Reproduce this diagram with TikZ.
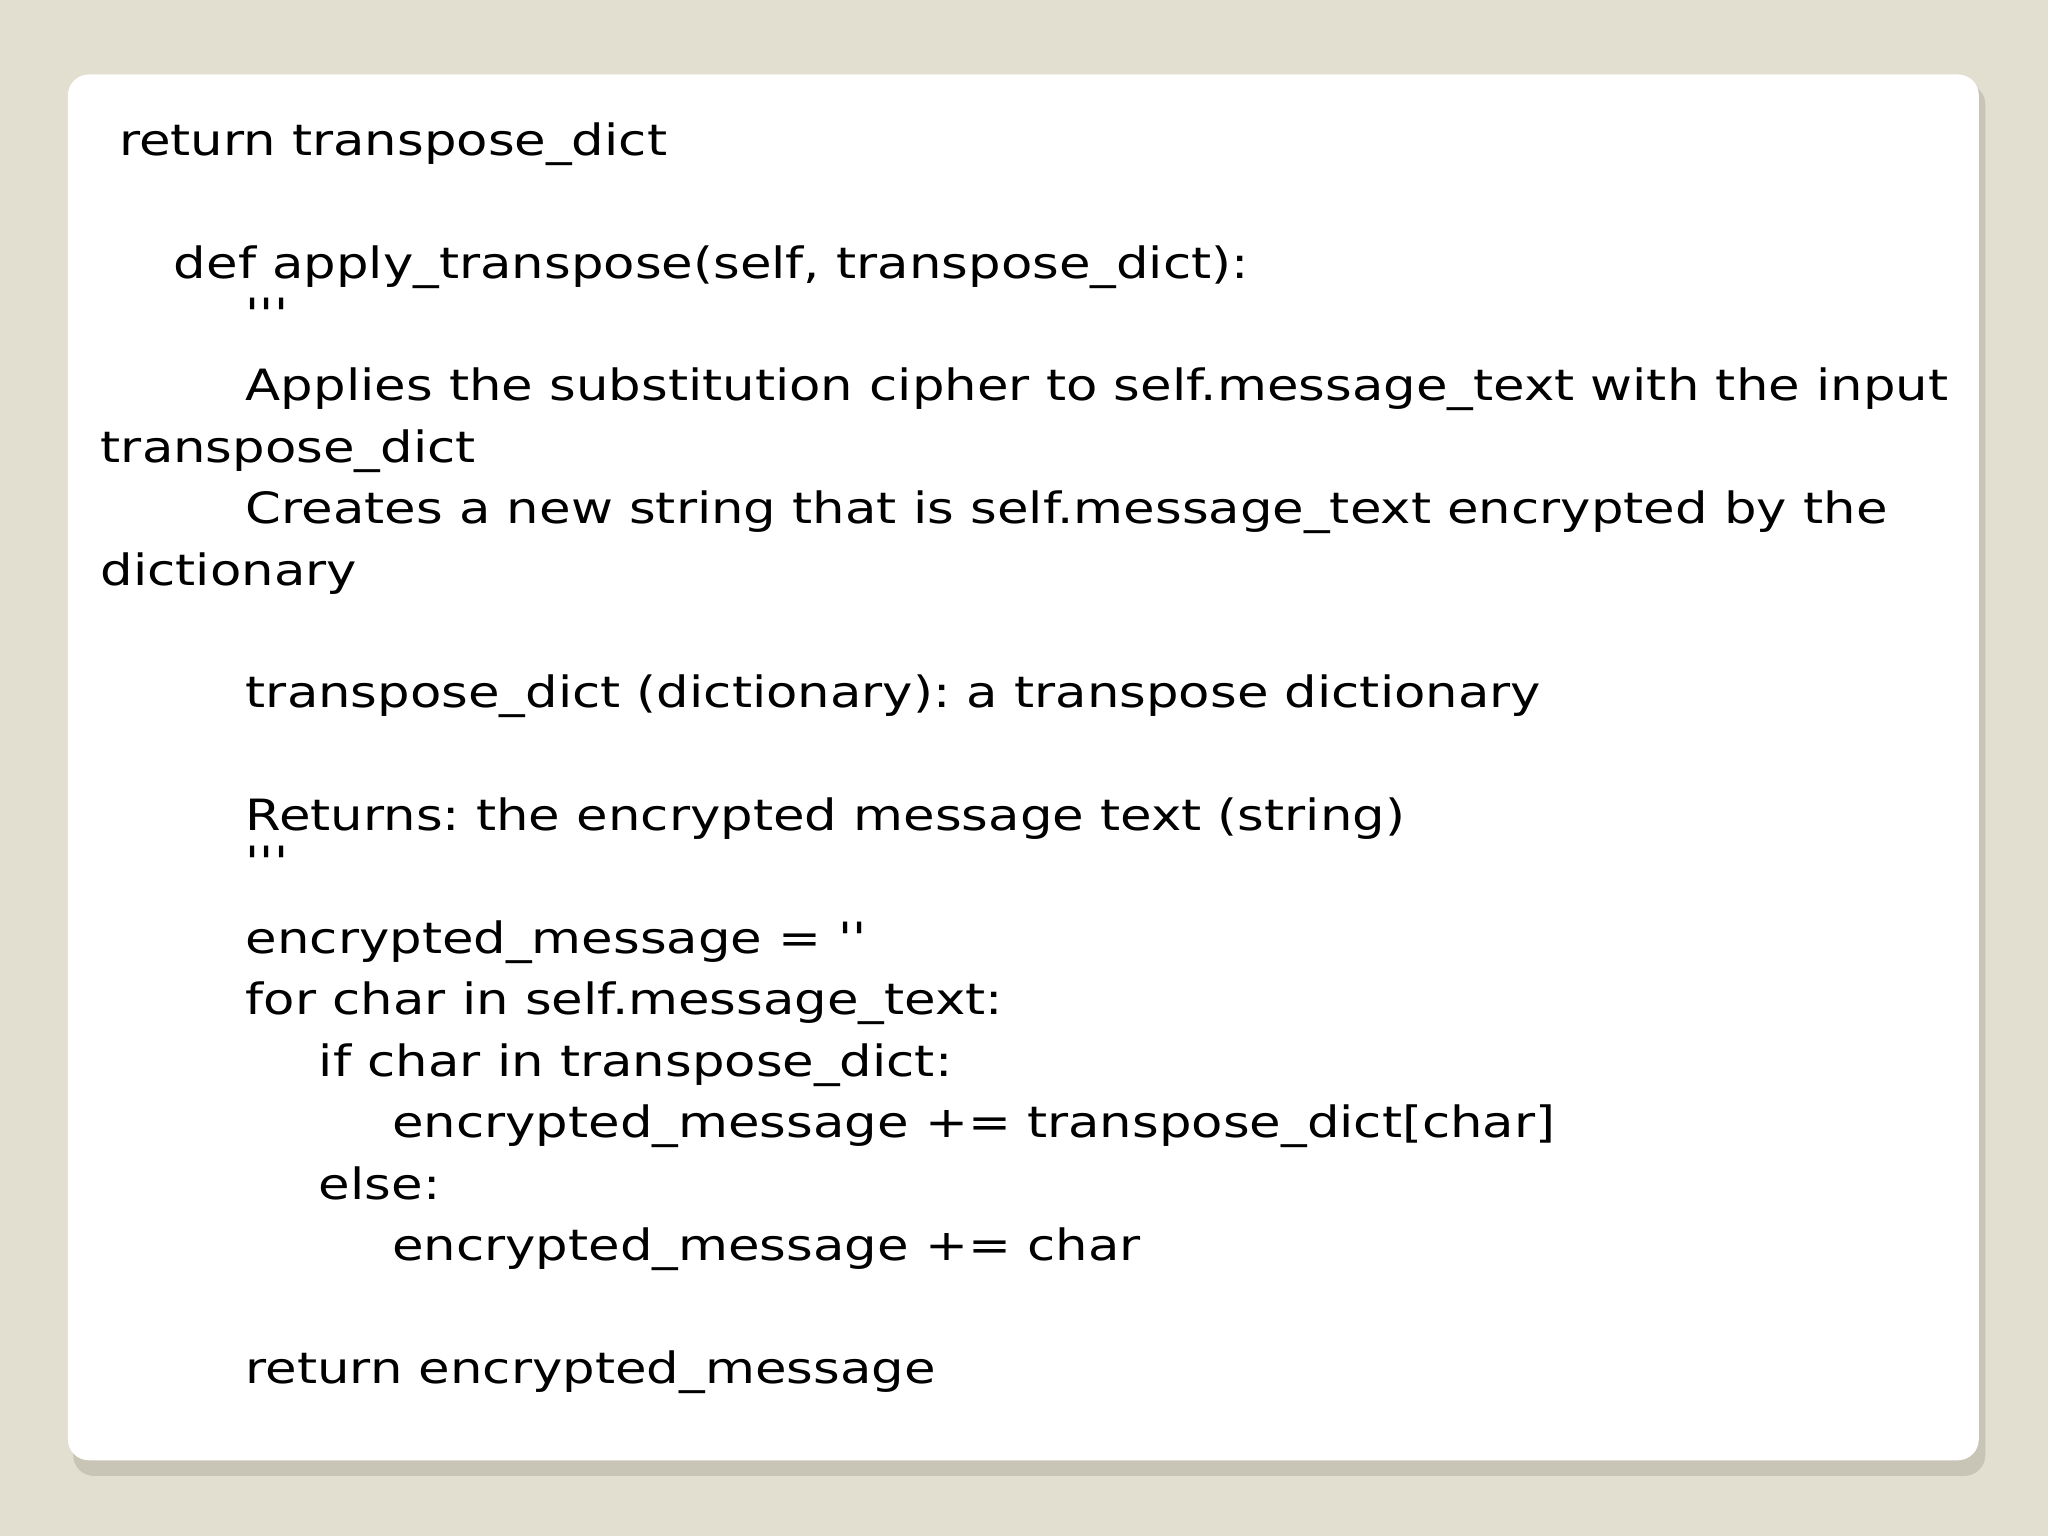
\documentclass[tikz,border=0pt]{standalone}
\usepackage{fontspec}
\newfontfamily\cf{DejaVu Sans}[FakeStretch=1.19]
\definecolor{bgc}{HTML}{E3DFD0}
\definecolor{shd}{HTML}{C9C5B6}
\begin{document}
\frenchspacing
\begin{tikzpicture}[x=1pt,y=-1pt,
  codeline/.style={anchor=base west,inner sep=0pt,font=\cf\fontsize{33}{40}\selectfont}]
\fill[bgc] (0,0) rectangle (1568,1176);
\useasboundingbox (0,0) rectangle (1568,1176);
\fill[shd,rounded corners=16] (56,64) rectangle (1520,1130);
\fill[white,rounded corners=16] (52,57) rectangle (1515,1118);
\node[codeline] (l1) at (91,119) {return transpose\_dict};
\node[codeline] (l2) at (133,213) {def apply\_transpose(self, transpose\_dict):};
\node[codeline] (l3) at (188,252) {'''};
\node[codeline] (l4) at (188,307) {Applies the substitution cipher to self.message\_text with the input};
\node[codeline] (l5) at (77,354) {transpose\_dict};
\node[codeline] (l6) at (188,401) {Creates a new string that is self.message\_text encrypted by the};
\node[codeline] (l7) at (77,448) {dictionary};
\node[codeline] (l8) at (188,542) {transpose\_dict (dictionary): a transpose dictionary};
\node[codeline] (l9) at (188,636) {Returns: the encrypted message text (string)};
\node[codeline] (l10) at (188,672) {'''};
\node[codeline] (l11) at (188,730) {encrypted\_message = ''};
\node[codeline] (l12) at (188,777) {for char in self.message\_text:};
\node[codeline] (l13) at (244,824) {if char in transpose\_dict:};
\node[codeline] (l14) at (300,871) {encrypted\_message += transpose\_dict[char]};
\node[codeline] (l15) at (244,918) {else:};
\node[codeline] (l16) at (300,965) {encrypted\_message += char};
\node[codeline] (l17) at (188,1059) {return encrypted\_message};
\end{tikzpicture}
\end{document}
